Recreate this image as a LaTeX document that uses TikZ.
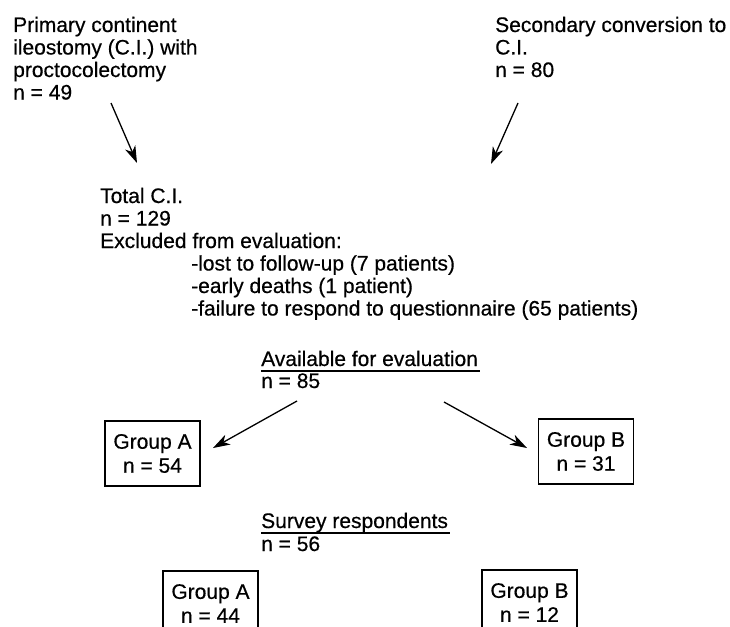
\documentclass[tikz,border=0pt]{standalone}
\usepackage{fontspec}
\setmainfont{Liberation Sans}[FakeBold=0.5]
\usetikzlibrary{arrows.meta}
\begin{document}
\begin{tikzpicture}[x=1pt,y=-1pt,
  txt/.style={anchor=base west, inner sep=0pt, font=\fontsize{21}{23}\selectfont},
  grp/.style={draw, line width=1.2pt, align=center, minimum width=95pt, minimum height=65pt,
    inner sep=0pt, font=\fontsize{21}{24}\selectfont},
  arr/.style={-{Stealth[length=17pt,width=11pt,inset=5pt]}, line width=1.3pt},
  ul/.style={line width=1.1pt}]
\useasboundingbox (0,0) rectangle (730,626);
\clip (0,0) rectangle (730,626);
% top left block
\node[txt] (p1) at (13,32) {Primary continent};
\node[txt] (p2) at (13,54.5) {ileostomy (C.I.) with};
\node[txt] (p3) at (13,77) {proctocolectomy};
\node[txt] (p4) at (13,99.5) {n = 49};
% top right block
\node[txt] (s1) at (495,32) {Secondary conversion to};
\node[txt] (s2) at (495,54.5) {C.I.};
\node[txt] (s3) at (495,77) {n = 80};
% total
\node[txt] (t1) at (100,203) {Total C.I.};
\node[txt] (t2) at (100,225.5) {n = 129};
\node[txt] (t3) at (100,248) {Excluded from evaluation:};
\node[txt] (t4) at (191,270.5) {-lost to follow-up (7 patients)};
\node[txt] (t5) at (191,293) {-early deaths (1 patient)};
\node[txt] (t6) at (191,315.5) {-failure to respond to questionnaire (65 patients)};
% available
\node[txt] (av) at (261,366) {Available for evaluation};
\node[txt] (avn) at (261,388) {n = 85};
\draw[ul] ([yshift=-5pt]av.base west) -- ([yshift=-5pt,xshift=2pt]av.base east);
% groups
\node[grp] (ga) at (152.5,453.5) {Group A\\n = 54};
\node[grp] (gb) at (586,451.5) {Group B\\n = 31};
% survey
\node[txt] (sv) at (261,528) {Survey respondents};
\node[txt] (svn) at (261,551) {n = 56};
\draw[ul] ([yshift=-5pt]sv.base west) -- ([yshift=-5pt,xshift=2pt]sv.base east);
\node[grp] (sa) at (210.5,603.5) {Group A\\n = 44};
\node[grp] (sb) at (529.5,602.5) {Group B\\n = 12};
% arrow coordinates
\coordinate (a1s) at (111,103);
\coordinate (a1e) at (137,163);
\coordinate (a2s) at (518,103);
\coordinate (a2e) at (491,164);
\coordinate (a3s) at (297,401);
\coordinate (a3e) at (213,448);
\coordinate (a4s) at (444,402);
\coordinate (a4e) at (527,448);
\draw[arr] (a1s) -- (a1e);
\draw[arr] (a2s) -- (a2e);
\draw[arr] (a3s) -- (a3e);
\draw[arr] (a4s) -- (a4e);
\end{tikzpicture}
\end{document}
